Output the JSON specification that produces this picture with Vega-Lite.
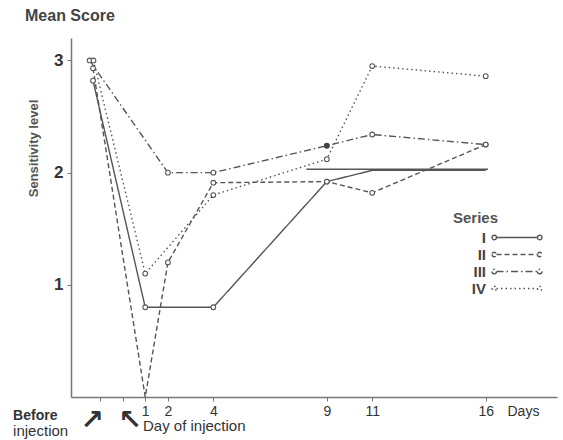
{
  "$schema": "https://vega.github.io/schema/vega-lite/v6.json",
  "autosize": "none",
  "padding": {"left": 71, "top": 38, "right": 6, "bottom": 43},
  "width": 486,
  "height": 359,
  "background": "white",
  "title": {"text": "Mean Score", "anchor": "start", "frame": "group", "dx": -46, "offset": 14, "font": "Liberation Sans", "fontSize": 16, "fontWeight": "bold", "color": "#444"},
  "config": {
    "view": {"stroke": null},
    "font": "Liberation Sans",
    "axis": {"grid": false, "domainColor": "#777", "domainWidth": 1.5, "tickColor": "#777", "labelColor": "#333", "titleColor": "#444"}
  },
  "datasets": {
    "scores": [
      {"series": "I", "day": -1.3, "score": 2.82},
      {"series": "I", "day": 1, "score": 0.8},
      {"series": "I", "day": 4, "score": 0.8},
      {"series": "I", "day": 9, "score": 1.92},
      {"series": "I", "day": 11, "score": 2.02},
      {"series": "I", "day": 16, "score": 2.02},
      {"series": "II", "day": -1.3, "score": 2.93},
      {"series": "II", "day": 1, "score": 0.0},
      {"series": "II", "day": 2, "score": 1.2},
      {"series": "II", "day": 4, "score": 1.91},
      {"series": "II", "day": 9, "score": 1.92},
      {"series": "II", "day": 11, "score": 1.82},
      {"series": "II", "day": 16, "score": 2.25},
      {"series": "III", "day": -1.45, "score": 3.0},
      {"series": "III", "day": 2, "score": 2.0},
      {"series": "III", "day": 4, "score": 2.0},
      {"series": "III", "day": 9, "score": 2.24},
      {"series": "III", "day": 11, "score": 2.34},
      {"series": "III", "day": 16, "score": 2.25},
      {"series": "IV", "day": -1.28, "score": 3.0},
      {"series": "IV", "day": 1, "score": 1.1},
      {"series": "IV", "day": 4, "score": 1.8},
      {"series": "IV", "day": 9, "score": 2.12},
      {"series": "IV", "day": 11, "score": 2.95},
      {"series": "IV", "day": 16, "score": 2.86}
    ]
  },
  "layer": [
    {
      "data": {"name": "scores"},
      "mark": {"type": "line", "stroke": "#555", "strokeWidth": 1.4},
      "encoding": {
        "x": {"field": "day", "type": "quantitative",
          "scale": {"domain": [-2.27, 19.14], "nice": false, "zero": false},
          "axis": {"values": [-1, 0, 1, 2, 4, 9, 11, 16], "labelExpr": "datum.value < 1 ? '' : datum.label", "tickSize": 4, "labelPadding": 3, "labelFontSize": 14, "labelFont": "Liberation Sans", "labelFlush": false,
            "title": "Days", "titleX": 436, "titleY": 7, "titleAlign": "left", "titleBaseline": "top", "titleFontSize": 14, "titleFontWeight": "normal", "titleColor": "#333"}},
        "y": {"field": "score", "type": "quantitative",
          "scale": {"domain": [0, 3.2], "nice": false},
          "axis": {"values": [1, 2, 3], "format": "d", "tickSize": 4, "labelPadding": 4, "labelFontSize": 17, "labelFontWeight": "bold",
            "title": "Sensitivity level", "titleX": -38, "titleY": 110, "titleAngle": 270, "titleAlign": "center", "titleBaseline": "middle", "titleFontSize": 13, "titleFontWeight": "bold", "titleColor": "#555"}},
        "strokeDash": {"field": "series", "type": "nominal",
          "scale": {"domain": ["I", "II", "III", "IV"], "range": [[1, 0], [5, 3], [7, 3, 1.5, 3], [1.5, 3]]},
          "legend": {"orient": "none", "legendX": 382, "legendY": 173, "title": "Series", "titleFontSize": 15, "titleFontWeight": "bold", "titleColor": "#555", "titlePadding": 3,
            "padding": 0, "symbolType": "M-3.33,0 a0.3,0.3 0 1,0 0.6,0 a0.3,0.3 0 1,0 -0.6,0 M-2.73,0 L2.73,0 M2.73,0 a0.3,0.3 0 1,0 0.6,0 a0.3,0.3 0 1,0 -0.6,0",
            "symbolSize": 225, "symbolStrokeWidth": 1.4, "symbolStrokeColor": "#555", "symbolFillColor": "white", "symbolOffset": 55.5,
            "labelAlign": "right", "labelOffset": -39.5, "labelFontSize": 15, "labelFontWeight": "bold", "labelColor": "#444", "rowPadding": 0}}
      }
    },
    {
      "data": {"name": "scores"},
      "transform": [{"filter": "datum.score > 0 && !(datum.series == 'I' && datum.day > 9)"}],
      "mark": {"type": "point", "shape": "circle", "filled": false, "fill": "white", "stroke": "#555", "strokeWidth": 1.1, "size": 22, "opacity": 1},
      "encoding": {
        "x": {"field": "day", "type": "quantitative"},
        "y": {"field": "score", "type": "quantitative"}
      }
    },
    {
      "data": {"name": "scores"},
      "transform": [{"filter": "datum.series == 'III' && datum.day == 9"}],
      "mark": {"type": "point", "shape": "circle", "filled": true, "color": "#444", "size": 30, "opacity": 1},
      "encoding": {
        "x": {"field": "day", "type": "quantitative"},
        "y": {"field": "score", "type": "quantitative"}
      }
    },
    {
      "data": {"values": [{}]},
      "mark": {"type": "rule", "stroke": "#555", "strokeWidth": 1.6},
      "encoding": {"x": {"datum": 8.1}, "x2": {"datum": 16.1}, "y": {"datum": 2.03}}
    },
    {
      "data": {"values": [{}]},
      "mark": {"type": "text", "align": "left", "baseline": "middle", "fontSize": 14, "fontWeight": "bold", "color": "#333"},
      "encoding": {"x": {"datum": -4.82}, "y": {"datum": -0.17}, "text": {"value": "Before"}}
    },
    {
      "data": {"values": [{}]},
      "mark": {"type": "text", "align": "left", "baseline": "middle", "fontSize": 15, "color": "#333"},
      "encoding": {"x": {"datum": -4.82}, "y": {"datum": -0.3}, "text": {"value": "injection"}}
    },
    {
      "data": {"values": [{}]},
      "mark": {"type": "text", "align": "left", "baseline": "middle", "fontSize": 15, "color": "#333"},
      "encoding": {"x": {"datum": 0.9}, "y": {"datum": -0.26}, "text": {"value": "Day of injection"}}
    },
    {
      "data": {"values": [{}]},
      "mark": {"type": "text", "align": "center", "baseline": "middle", "fontSize": 28, "fontWeight": "bold", "color": "#333", "font": "DejaVu Sans"},
      "encoding": {"x": {"datum": -1.34}, "y": {"datum": -0.21}, "text": {"value": "↗"}}
    },
    {
      "data": {"values": [{}]},
      "mark": {"type": "text", "align": "center", "baseline": "middle", "fontSize": 28, "fontWeight": "bold", "color": "#333", "font": "DejaVu Sans"},
      "encoding": {"x": {"datum": 0.33}, "y": {"datum": -0.21}, "text": {"value": "↖"}}
    }
  ]
}
